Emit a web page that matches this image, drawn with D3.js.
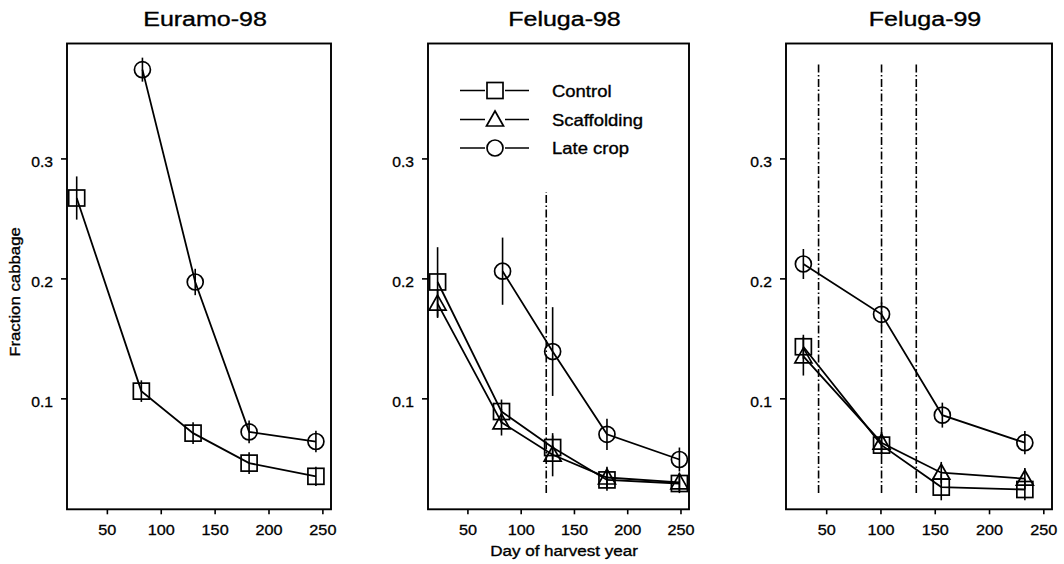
<!DOCTYPE html>
<html><head><meta charset="utf-8">
<script src="https://cdn.jsdelivr.net/npm/d3@7/dist/d3.min.js"></script>
<style>body{margin:0;background:#fff}svg{display:block}</style>
</head><body><svg id="c" width="1064" height="564"></svg>
<script>
// ---------- data ----------
const panelTitles = ["Euramo-98", "Feluga-98", "Feluga-99"];
const seriesNames = ["Control", "Scaffolding", "Late crop"];
const xTicks = [50, 100, 150, 200, 250];
const yTicks = [0.1, 0.2, 0.3];
const yTickLabels = ["0.1", "0.2", "0.3"];
const xLabel = "Day of harvest year";
const yLabel = "Fraction cabbage";

// Euramo-98
const euramoControlDay = [22, 82, 130, 182, 244];
const euramoControlVal = [0.267, 0.106, 0.071, 0.046, 0.035];
const euramoControlErr = [0.018, 0.009, 0.009, 0.009, 0.008];
const euramoLateDay = [83, 132, 182, 244];
const euramoLateVal = [0.374, 0.197, 0.072, 0.064];
const euramoLateErr = [0.010, 0.011, 0.0095, 0.009];

// Feluga-98
const f98ControlDay = [22, 82, 130, 181, 249];
const f98ControlVal = [0.197, 0.089, 0.059, 0.032, 0.029];
const f98ControlErr = [0.029, 0.010, 0.010, 0.009, 0.008];
const f98ScaffDay = [22, 82, 130, 181, 249];
const f98ScaffVal = [0.179, 0.080, 0.053, 0.034, 0.030];
const f98ScaffErr = [0.012, 0.011, 0.018, 0.009, 0.008];
const f98LateDay = [83, 130, 181, 249];
const f98LateVal = [0.206, 0.139, 0.070, 0.049];
const f98LateErr = [0.028, 0.037, 0.013, 0.010];
const f98RefDays = [124];
const f98RefRange = [0.021, 0.272];

// Feluga-99
const f99ControlDay = [29, 101, 156, 233];
const f99ControlVal = [0.143, 0.061, 0.026, 0.024];
const f99ControlErr = [0.010, 0.009, 0.011, 0.009];
const f99ScaffDay = [29, 101, 156, 233];
const f99ScaffVal = [0.135, 0.063, 0.038, 0.033];
const f99ScaffErr = [0.016, 0.009, 0.009, 0.009];
const f99LateDay = [29, 101, 157, 233];
const f99LateVal = [0.212, 0.170, 0.086, 0.063];
const f99LateErr = [0.0125, 0.010, 0.0104, 0.0097];
const f99RefDays = [43, 101, 133];
const f99RefRange = [0.021, 0.380];

// ---------- build ----------
const zip = (d, v, e) => d.map((x, i) => ({x, y: v[i], e: e[i]}));
const panels = [
  {title: panelTitles[0], series: [
     {name: seriesNames[0], pts: zip(euramoControlDay, euramoControlVal, euramoControlErr)},
     {name: seriesNames[2], pts: zip(euramoLateDay, euramoLateVal, euramoLateErr)}],
   refs: [], refRange: null},
  {title: panelTitles[1], series: [
     {name: seriesNames[0], pts: zip(f98ControlDay, f98ControlVal, f98ControlErr)},
     {name: seriesNames[1], pts: zip(f98ScaffDay, f98ScaffVal, f98ScaffErr)},
     {name: seriesNames[2], pts: zip(f98LateDay, f98LateVal, f98LateErr)}],
   refs: f98RefDays, refRange: f98RefRange, legend: true},
  {title: panelTitles[2], series: [
     {name: seriesNames[0], pts: zip(f99ControlDay, f99ControlVal, f99ControlErr)},
     {name: seriesNames[1], pts: zip(f99ScaffDay, f99ScaffVal, f99ScaffErr)},
     {name: seriesNames[2], pts: zip(f99LateDay, f99LateVal, f99LateErr)}],
   refs: f99RefDays, refRange: f99RefRange}
];

const layout = [{left: 67, width: 264}, {left: 428, width: 261}, {left: 786, width: 266}];
const plotTop = 43.5, plotBottom = 509.3;
const FONT = "'Liberation Sans', Arial, Helvetica, sans-serif";
const svg = d3.select("#c");

function stext(g, x, y, str, size, sx, anchor, rot) {
  return g.append("text")
    .attr("transform", `translate(${x},${y})` + (rot ? ` rotate(${rot})` : "") + ` scale(${sx},1)`)
    .attr("text-anchor", anchor || "middle")
    .attr("font-family", FONT).attr("font-size", size).attr("fill", "#000")
    .attr("stroke", "#000").attr("stroke-width", 0.35)
    .text(str);
}

function marker(g, name, cx, cy) {
  if (name === "Control") {
    g.append("rect").attr("x", cx - 8).attr("y", cy - 8).attr("width", 16).attr("height", 16)
      .attr("fill", "none").attr("stroke", "#000").attr("stroke-width", 1.7);
  } else if (name === "Scaffolding") {
    g.append("path").attr("d", `M${cx},${cy - 8.5}L${cx + 8.5},${cy + 6.5}L${cx - 8.5},${cy + 6.5}Z`)
      .attr("fill", "none").attr("stroke", "#000").attr("stroke-width", 1.7).attr("stroke-linejoin", "miter");
  } else {
    g.append("circle").attr("cx", cx).attr("cy", cy).attr("r", 8)
      .attr("fill", "none").attr("stroke", "#000").attr("stroke-width", 1.7);
  }
}

panels.forEach((p, i) => {
  const L = layout[i];
  const x = d3.scaleLinear().domain([13, 258]).range([L.left, L.left + L.width]);
  const y = d3.scaleLinear().domain([0.0075, 0.3958]).range([plotBottom, plotTop]);
  const g = svg.append("g");

  // reference dash-dot lines
  p.refs.forEach(d => {
    g.append("line").attr("x1", x(d)).attr("x2", x(d))
      .attr("y1", y(p.refRange[0])).attr("y2", y(p.refRange[1]))
      .attr("stroke", "#000").attr("stroke-width", 1.6)
      .attr("stroke-dasharray", "8,2.5,1.5,2.5");
  });

  // series lines
  const line = d3.line().x(d => x(d.x)).y(d => y(d.y));
  p.series.forEach(s => {
    g.append("path").attr("d", line(s.pts)).attr("fill", "none")
      .attr("stroke", "#000").attr("stroke-width", 1.8);
    s.pts.forEach(d => {
      g.append("line").attr("x1", x(d.x)).attr("x2", x(d.x))
        .attr("y1", y(d.y - d.e)).attr("y2", y(d.y + d.e))
        .attr("stroke", "#000").attr("stroke-width", 1.6);
    });
    s.pts.forEach(d => marker(g, s.name, x(d.x), y(d.y)));
  });

  // frame
  g.append("rect").attr("x", L.left).attr("y", plotTop).attr("width", L.width).attr("height", plotBottom - plotTop)
    .attr("fill", "none").attr("stroke", "#000").attr("stroke-width", 1.9);

  // x axis
  const xa = g.append("g").attr("transform", `translate(0,${plotBottom})`)
    .call(d3.axisBottom(x).tickValues(xTicks).tickSize(5).tickPadding(4));
  xa.select(".domain").remove();
  xa.selectAll("line").attr("stroke", "#000").attr("stroke-width", 1.6);
  xa.selectAll("text").attr("font-family", FONT).attr("font-size", 14.5).attr("fill", "#000")
    .attr("stroke", "#000").attr("stroke-width", 0.3)
    .attr("y", 0).attr("dy", 0).attr("transform", "translate(0,26) scale(1.12,1)");

  // y axis
  const ya = g.append("g").attr("transform", `translate(${L.left},0)`)
    .call(d3.axisLeft(y).tickValues(yTicks).tickFormat((d, k) => yTickLabels[k]).tickSize(6).tickPadding(8));
  ya.select(".domain").remove();
  ya.selectAll("line").attr("stroke", "#000").attr("stroke-width", 1.6);
  ya.selectAll("text").attr("font-family", FONT).attr("font-size", 14.5).attr("fill", "#000")
    .attr("stroke", "#000").attr("stroke-width", 0.3)
    .attr("x", 0).attr("dy", 0).attr("transform", "translate(-14,8.5) scale(1.08,1)");

  // title
  stext(g, L.left + L.width / 2 + 6, 26, p.title, 20, 1.25, "middle");

  // legend
  if (p.legend) {
    const lx0 = 460, lx1 = 529, mx = 495, tx = 552;
    const rows = [90.5, 119.5, 148];
    seriesNames.forEach((n, k) => {
      g.append("line").attr("x1", lx0).attr("x2", lx1).attr("y1", rows[k]).attr("y2", rows[k])
        .attr("stroke", "#000").attr("stroke-width", 1.6);
      g.append("rect").attr("x", mx - 10).attr("y", rows[k] - 10).attr("width", 20).attr("height", 20).attr("fill", "#fff");
      marker(g, n, mx, rows[k]);
      stext(g, tx, rows[k] + 6, n, 16.5, 1.12, "start");
    });
  }
});

// axis labels
stext(svg, 564, 556, xLabel, 15.5, 1.1, "middle");
stext(svg, 20, 292, yLabel, 15, 1.12, "middle", -90);
</script>
</body></html>
